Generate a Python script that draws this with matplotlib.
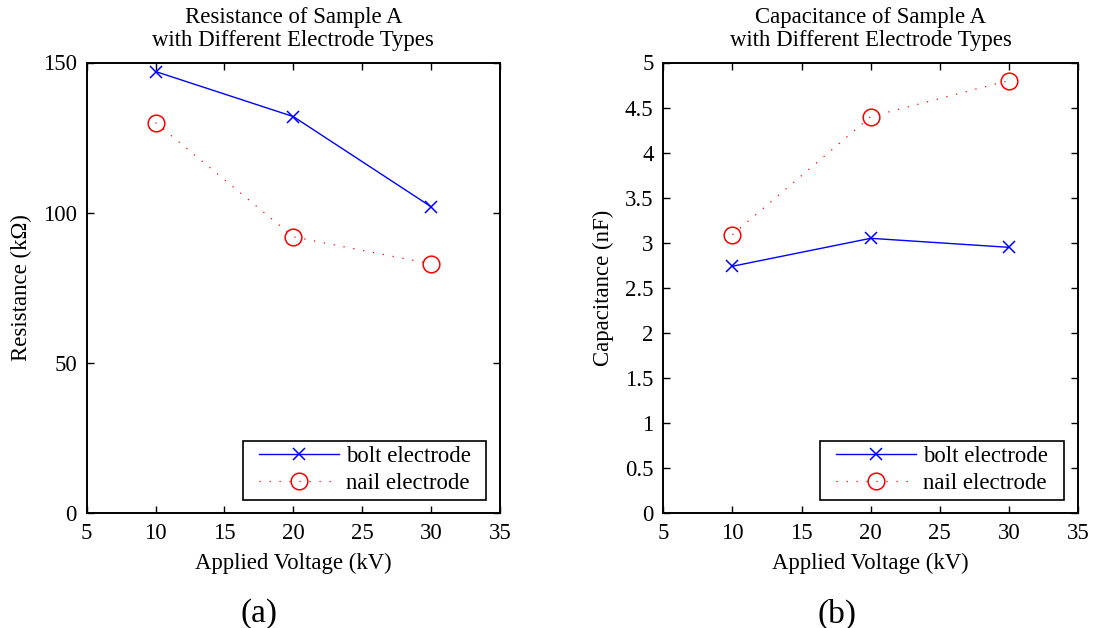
import matplotlib
matplotlib.use("Agg")
import matplotlib.pyplot as plt
from matplotlib.legend_handler import HandlerLine2D

plt.rcParams['font.family'] = ['Liberation Serif', 'DejaVu Serif']

voltage = [10, 20, 30]
res_bolt = [147, 132, 102]
res_nail = [130, 92, 83]
cap_bolt = [2.74, 3.05, 2.95]
cap_nail = [3.09, 4.40, 4.80]
series_names = ['bolt electrode', 'nail electrode']

xticks = [5, 10, 15, 20, 25, 30, 35]
res_yticks = [0, 50, 100, 150]
cap_yticks = [0, 0.5, 1, 1.5, 2, 2.5, 3, 3.5, 4, 4.5, 5]
cap_yticklabels = ['0', '0.5', '1', '1.5', '2', '2.5', '3', '3.5', '4', '4.5', '5']

W, H = 1097, 628
fig = plt.figure(figsize=(W / 100, H / 100), dpi=100)

FS = 16.4

def make_ax(left_px, right_px):
    top_px, bot_px = 62.5, 513.3
    return fig.add_axes([left_px / W, 1 - bot_px / H, (right_px - left_px) / W, (bot_px - top_px) / H])

def style(ax):
    ax.tick_params(direction='in', top=True, right=True, length=5, width=1,
                   labelsize=FS, pad=7)
    for s in ax.spines.values():
        s.set_linewidth(1.4)

def plot_pair(ax, bolt, nail):
    l1, = ax.plot(voltage, bolt, color='#0000ff', lw=1.0, marker='x', markersize=9,
                  markeredgewidth=1.1, label=series_names[0])
    l2, = ax.plot(voltage, nail, color='#ff0000', lw=0.9, linestyle=(0, (1, 7)),
                  marker='o', markersize=12, markerfacecolor='none', markeredgewidth=1.1,
                  label=series_names[1])
    hm = {l1: HandlerLine2D(xpad=0.45), l2: HandlerLine2D(xpad=0.45)}
    leg = ax.legend(handles=[l1, l2], handler_map=hm, loc='lower right', fontsize=FS,
                    bbox_to_anchor=(0.345, 0.0, 0.655, 1.0), mode='expand',
                    frameon=True, fancybox=False, edgecolor='black', framealpha=1,
                    handlelength=3.95, handletextpad=0.34, borderaxespad=0.6,
                    labelspacing=0.25, borderpad=0.25)
    leg.get_frame().set_linewidth(1.2)
    return leg

ax1 = make_ax(86.7, 500)
leg1 = plot_pair(ax1, res_bolt, res_nail)
ax1.set_xlim(5, 35)
ax1.set_ylim(0, 150)
ax1.set_xticks(xticks)
ax1.set_yticks(res_yticks)
style(ax1)
ax1.set_xlabel('Applied Voltage (kV)', fontsize=FS, labelpad=6)
ax1.set_ylabel('Resistance (k\u03a9)', fontsize=FS, labelpad=8)
ax1.set_title('Resistance of Sample A\nwith Different Electrode Types', fontsize=FS,
              pad=12, linespacing=1.1)

ax2 = make_ax(663.3, 1078)
leg2 = plot_pair(ax2, cap_bolt, cap_nail)
ax2.set_xlim(5, 35)
ax2.set_ylim(0, 5)
ax2.set_xticks(xticks)
ax2.set_yticks(cap_yticks)
ax2.set_yticklabels(cap_yticklabels)
style(ax2)
ax2.set_xlabel('Applied Voltage (kV)', fontsize=FS, labelpad=6)
ax2.set_ylabel('Capacitance (nF)', fontsize=FS, labelpad=8)
ax2.set_title('Capacitance of Sample A\nwith Different Electrode Types', fontsize=FS,
              pad=12, linespacing=1.1)

fig.text(259 / W, 1 - 614 / H, '(a)', fontsize=24, ha='center', va='center')
fig.text(837 / W, 1 - 614 / H, '(b)', fontsize=24, ha='center', va='center')

fig.savefig('out.png', dpi=100, facecolor='white')
